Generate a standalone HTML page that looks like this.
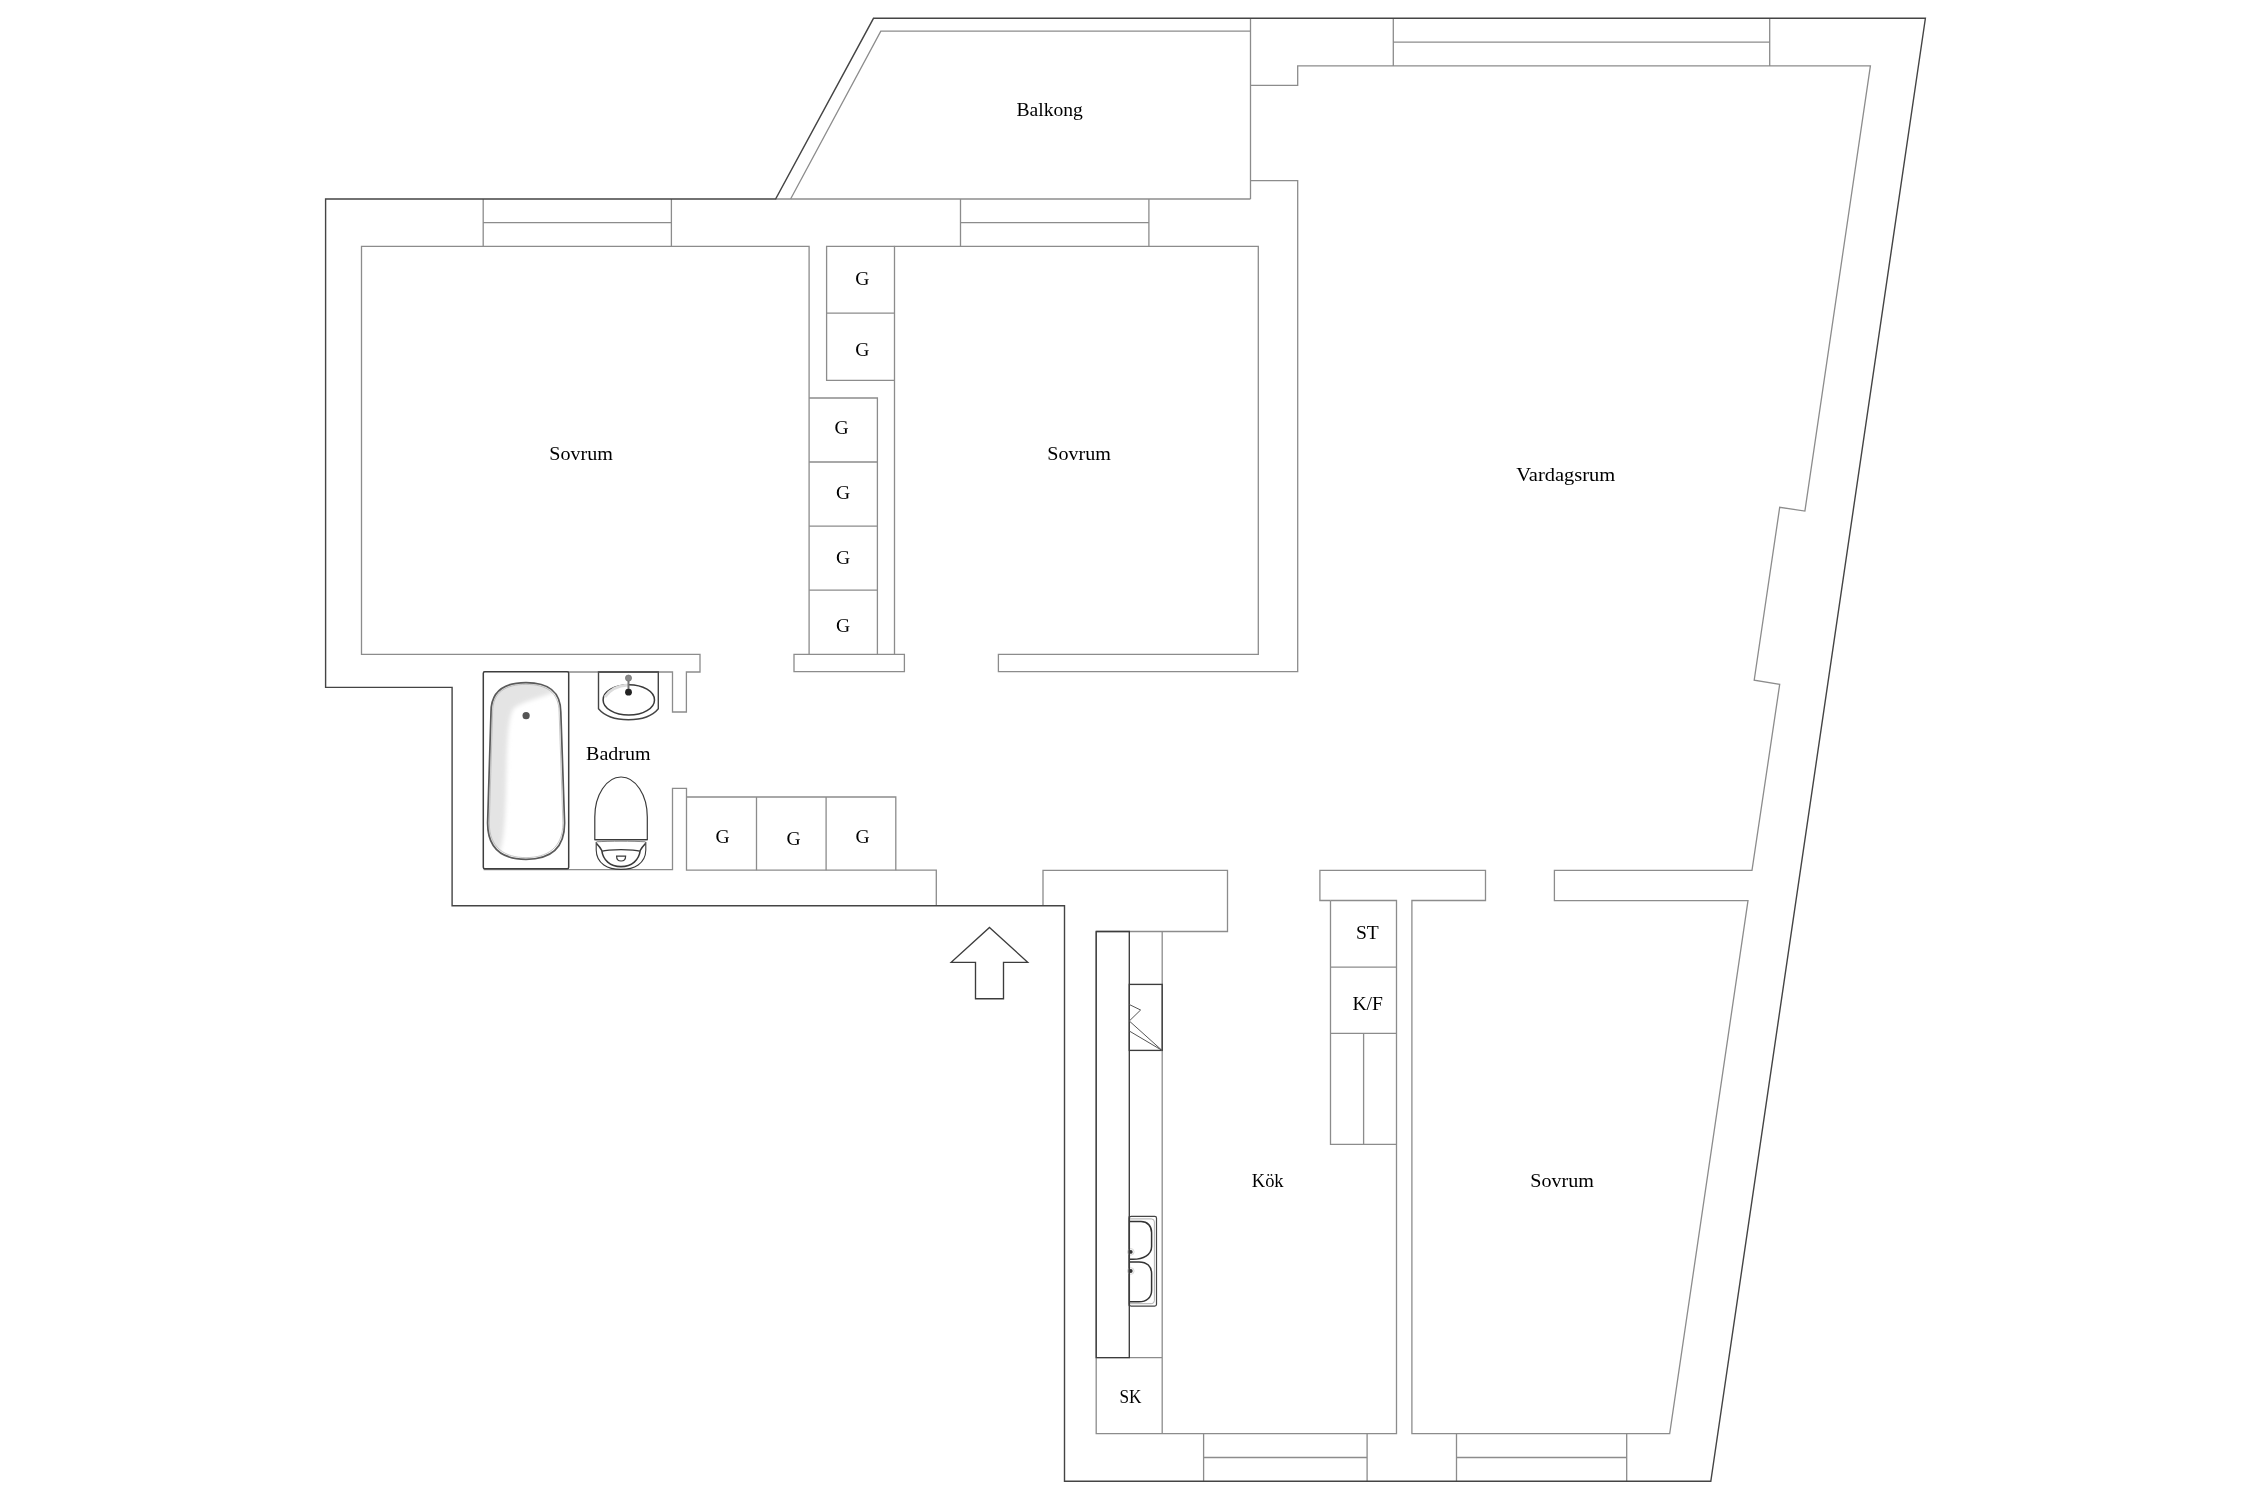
<!DOCTYPE html>
<html><head><meta charset="utf-8">
<style>
html,body{margin:0;padding:0;background:#fff;width:2250px;height:1500px;overflow:hidden}
svg{position:absolute;left:0;top:0;display:block}
.d{fill:none;stroke:#444;stroke-width:1.4;stroke-linejoin:miter}
.g{fill:none;stroke:#8c8c8c;stroke-width:1.3;stroke-linejoin:miter}
.k{fill:none;stroke:#3c3c3c;stroke-width:1.35}
text{font-family:"Liberation Serif",serif;font-size:19.6px;fill:#000}
.txt{will-change:transform}
</style></head>
<body>
<svg width="2250" height="1500" viewBox="0 0 2250 1500">
<!-- gray interior lines -->
<g class="g">
  <!-- balcony -->
  <path d="M775.6 199 L1250.5 199"/>
  <path d="M790.6 199 L880.8 31.2 L1250.5 31.2"/>
  <path d="M1250.5 18.3 L1250.5 199"/>
  <path d="M1250.5 85.4 L1297.7 85.4 L1297.7 65.9 L1870.4 65.9 L1804.9 511.1 L1779.7 507.3 L1754.2 680.1 L1779.7 684.4 L1752 870.4 L1554.4 870.4 L1554.4 900.7 L1748 900.7 L1669.7 1433.7 L1411.9 1433.7 L1411.9 900.5 L1485.5 900.5 L1485.5 870.3 L1319.9 870.3 L1319.9 900.5 L1330.5 900.5"/>
  <!-- top window -->
  <path d="M1393.3 18.3 L1393.3 65.9 M1769.7 18.3 L1769.7 65.9 M1393.3 42.2 L1769.7 42.2"/>
  <!-- Sovrum 2 + wall to vardagsrum -->
  <path d="M1250.5 180.6 L1297.7 180.6 L1297.7 671.7 L998.4 671.7 L998.4 654.4 L1258.3 654.4 L1258.3 246.3 L894.5 246.3 L894.5 654.4"/>
  <!-- windows on y=199 wall -->
  <path d="M483.2 199 L483.2 246.3 M671.4 199 L671.4 246.3 M483.2 222.7 L671.4 222.7"/>
  <path d="M960.5 199 L960.5 246.3 M1148.9 199 L1148.9 246.3 M960.5 222.7 L1148.9 222.7"/>
  <!-- Sovrum 1 -->
  <path d="M809.1 654.4 L809.1 246.3 L361.5 246.3 L361.5 654.4 L700 654.4 L700 672 L686.4 672 L686.4 712 L672.5 712 L672.5 672 L483.6 672"/>
  <!-- upper closets -->
  <path d="M894.5 246.3 L826.6 246.3 L826.6 380.3 L894.5 380.3 M826.6 313.1 L894.5 313.1"/>
  <!-- lower closets -->
  <path d="M809.1 398 L877.4 398 L877.4 654.4 M809.1 462 L877.4 462 M809.1 526.2 L877.4 526.2 M809.1 590.2 L877.4 590.2"/>
  <path d="M794 654.4 L904.4 654.4 L904.4 671.6 L794 671.6 Z"/>
  <!-- bathroom lower -->
  <path d="M483.6 869.6 L672.5 869.6 L672.5 788.4 L686.5 788.4 L686.5 870.2 L936.3 870.2 L936.3 905.8"/>
  <path d="M686.5 797 L895.8 797 L895.8 870.2 M756.5 797 L756.5 870.2 M826.1 797 L826.1 870.2"/>
  <!-- kitchen -->
  <path d="M1043 905.8 L1043 870.3 L1227.5 870.3 L1227.5 931.5 L1096.2 931.5"/>
  <path d="M1096.2 931.5 L1096.2 1433.7 L1396.5 1433.7 L1396.5 900.5 L1330.5 900.5"/>
  <path d="M1162.2 931.5 L1162.2 1433.7 M1096.2 1357.6 L1162.2 1357.6"/>
  <path d="M1330.5 900.5 L1330.5 1144.4 L1396.5 1144.4 M1330.5 967.1 L1396.5 967.1 M1330.5 1033.3 L1396.5 1033.3 M1363.6 1033.3 L1363.6 1144.4"/>
  <!-- bottom windows -->
  <path d="M1203.6 1433.7 L1203.6 1481.3 M1367.1 1433.7 L1367.1 1481.3 M1203.6 1457.5 L1367.1 1457.5"/>
  <path d="M1456.5 1433.7 L1456.5 1481.3 M1626.7 1433.7 L1626.7 1481.3 M1456.5 1457.5 L1626.7 1457.5"/>
</g>
<!-- outer walls -->
<path class="d" d="M325.6 199 L775.6 199 L873.5 18.3 L1925.4 18.3 L1710.8 1481.3 L1064.5 1481.3 L1064.5 905.8 L452.1 905.8 L452.1 687.4 L325.6 687.4 Z"/>
<!-- entrance arrow -->
<path class="k" d="M989.5 927.4 L1027.7 962.3 L1003.5 962.3 L1003.5 998.7 L975.5 998.7 L975.5 962.3 L951.2 962.3 Z"/>
<!-- kitchen dark fixtures -->
<path class="k" d="M1096.2 931.5 L1129.3 931.5 L1129.3 1357.6 L1096.2 1357.6 Z"/>
<rect class="k" x="1129.3" y="984.4" width="32.9" height="66"/>
<path fill="none" stroke="#555" stroke-width="1" d="M1129.3 1004.5 L1140.6 1010 L1129.3 1021 L1162 1050.4 M1129.3 1031 L1162 1050.4"/>
<!-- sink -->
<g>
  <rect x="1129.3" y="1216.3" width="27.2" height="89.8" rx="1.8" fill="#fff" stroke="#444" stroke-width="1.2"/>
  <path d="M1129.3 1218.9 L1151.3 1218.9 Q1154.4 1218.9 1154.4 1222 L1154.4 1300.6 Q1154.4 1303.7 1151.3 1303.7 L1129.3 1303.7" fill="none" stroke="#9a9a9a" stroke-width="0.8"/>
  <path d="M1129.3 1221.6 L1141 1221.6 C1147.5 1221.6 1151.6 1226 1151.6 1232.5 L1151.6 1246.5 C1151.6 1255 1143 1259.3 1133 1259.3 L1129.3 1259.3" fill="none" stroke="#333" stroke-width="1.5"/>
  <path d="M1129.3 1261.9 L1139 1261.9 C1147 1261.9 1151.6 1266.5 1151.6 1273.5 L1151.6 1290.5 C1151.6 1297.5 1146.5 1301.8 1139 1301.8 L1129.3 1301.8" fill="none" stroke="#333" stroke-width="1.5"/>
  <circle cx="1130.8" cy="1251.9" r="3.3" fill="none" stroke="#c8c8c8" stroke-width="0.7"/>
  <circle cx="1130.8" cy="1271" r="3.3" fill="none" stroke="#c8c8c8" stroke-width="0.7"/>
  <circle cx="1130.8" cy="1251.9" r="1.9" fill="#333"/>
  <circle cx="1130.8" cy="1271" r="1.9" fill="#333"/>
  <path d="M1129.3 1216.3 L1129.3 1306.1" stroke="#3c3c3c" stroke-width="1.5"/>
</g>
<!-- bathtub -->
<defs><filter id="blr" x="-20%" y="-20%" width="140%" height="140%"><feGaussianBlur stdDeviation="2"/></filter>
<clipPath id="tubclip"><path d="M491 712 C491 690 505 682.6 526 682.6 C547 682.6 560.5 690 560.8 712 L564.6 823 C564.6 850 548 859.3 526 859.3 C504 859.3 487.6 850 487.6 823 Z"/></clipPath></defs>
<g>
  <rect x="483.3" y="671.8" width="85.4" height="197" rx="1.5" fill="#fff" stroke="#3e3e3e" stroke-width="1.5"/>
  <g clip-path="url(#tubclip)"><rect x="480" y="675" width="90" height="190" fill="#fff"/><path d="M486 700 C490 684 506 680 526 680 C542 680 552 684 558 690 C545 697 525 700 514 708 C508 716 507 740 506 790 C505 830 503 846 498 856 C490 850 484 838 484 823 Z" fill="#e4e4e4" stroke="none" filter="url(#blr)"/></g>
  <path d="M491 712 C491 690 505 682.6 526 682.6 C547 682.6 560.5 690 560.8 712 L564.6 823 C564.6 850 548 859.3 526 859.3 C504 859.3 487.6 850 487.6 823 Z" fill="none" stroke="#5a5a5a" stroke-width="1.7"/>
  <path d="M492.6 712 C492.6 692 506 684.4 526 684.4 C546 684.4 558.8 692 559.1 712 L562.9 823 C562.9 848 547 857.6 526 857.6 C505 857.6 489.3 848 489.3 823 Z" fill="none" stroke="#b0b0b0" stroke-width="0.7"/>
  <circle cx="526.1" cy="715.7" r="3.6" fill="#555"/>
</g>
<!-- sink bathroom -->
<g>
  <path d="M598.5 671.9 L658.3 671.9 L658.3 708.7 C652 716.5 640 719.7 628.4 719.7 C616.8 719.7 605 716.5 598.5 708.7 Z" fill="#fff" stroke="#444" stroke-width="1.4"/>
  <path d="M598.5 671.9 L658.3 671.9" stroke="#555" stroke-width="2"/>
  <ellipse cx="628.8" cy="699.9" rx="25.7" ry="15.2" fill="#fff" stroke="#3a3a3a" stroke-width="1.5"/>
  <path d="M605 697 Q612 686 628 685" fill="none" stroke="#ddd" stroke-width="3"/>
  <line x1="628.5" y1="678" x2="628.5" y2="692" stroke="#777" stroke-width="2"/>
  <circle cx="628.5" cy="678.1" r="3.1" fill="#8a8a8a" stroke="#666" stroke-width="0.6"/>
  <circle cx="628.5" cy="692.2" r="3.4" fill="#222"/>
</g>
<!-- toilet -->
<g fill="none" stroke="#3a3a3a" stroke-width="1.2">
  <path d="M596.2 842 L596.2 850 C596.5 864 608 869.4 621 869.4 C634 869.4 645.5 864 645.8 850 L645.8 842" stroke-width="1.1"/>
  <path d="M596.5 843.5 C599 846 600.5 848 601.8 850.5 C603 860 610 866.6 621 866.6 C632 866.6 639 860 640.2 850.5 C641.5 848 643 846 645.5 843.5" stroke-width="1.6"/>
  <path d="M602.3 851.2 C608 849 634 849 639.7 851.2" stroke-width="1.3"/>
  <path d="M596.5 841.8 C610 841 632 841 645.5 841.8" stroke-width="0.9" stroke="#777"/>
  <path d="M594.8 839.6 L594.8 817 A26.25 40 0 0 1 647.3 817 L647.3 839.6 Z" fill="#fff"/>
  <path d="M594.8 839.6 L647.3 839.6" stroke-width="1.4"/>
  <path d="M616.6 856.2 L625.6 856.2 C625.6 859.5 623.5 861 621.1 861 C618.7 861 616.6 859.5 616.6 856.2 Z" stroke-width="1.2"/>
</g>
<!-- labels -->
<g class="txt">
<text x="1016.5" y="115.8">Balkong</text>
<text x="549.3" y="459.8" textLength="63.6" lengthAdjust="spacingAndGlyphs">Sovrum</text>
<text x="1047.3" y="459.7" textLength="63.6" lengthAdjust="spacingAndGlyphs">Sovrum</text>
<text x="1516.3" y="480.8" textLength="99" lengthAdjust="spacingAndGlyphs">Vardagsrum</text>
<text x="586.1" y="760" textLength="64.4" lengthAdjust="spacingAndGlyphs">Badrum</text>
<text x="1251.8" y="1186.7" textLength="31.8" lengthAdjust="spacingAndGlyphs">Kök</text>
<text x="1530.3" y="1186.7" textLength="63.6" lengthAdjust="spacingAndGlyphs">Sovrum</text>
<text x="1119.4" y="1402.8" textLength="22" lengthAdjust="spacingAndGlyphs">SK</text>
<text x="1355.9" y="938.8">ST</text>
<text x="1352.4" y="1010.1">K/F</text>
<g text-anchor="middle">
  <text x="862.4" y="284.8">G</text>
  <text x="862.4" y="356">G</text>
  <text x="841.6" y="434.4">G</text>
  <text x="843" y="499">G</text>
  <text x="843" y="563.6">G</text>
  <text x="843" y="632.4">G</text>
  <text x="722.5" y="842.8">G</text>
  <text x="793.5" y="844.7">G</text>
  <text x="862.5" y="842.8">G</text>
</g>
</g>
</svg>
</body></html>
